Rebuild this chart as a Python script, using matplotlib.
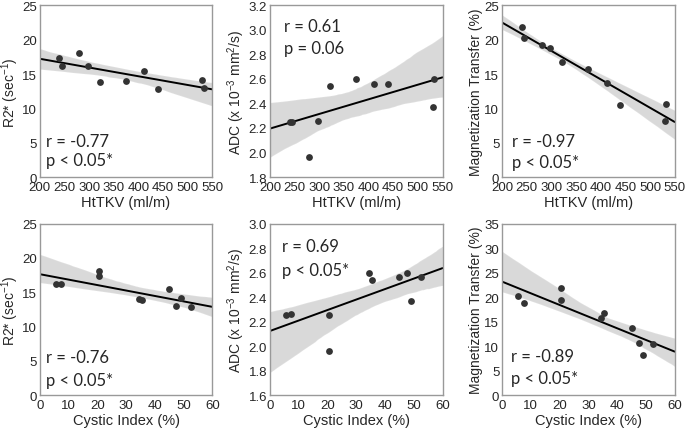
import matplotlib
matplotlib.use("Agg")
import matplotlib.pyplot as plt
import numpy as np
import seaborn as sns

# one value per patient
httkv = [240, 245, 280, 297, 322, 375, 412, 440, 530, 533]
cystic = [20.5, 5.5, 20.5, 7.5, 35.5, 34.5, 45, 52.5, 49, 47.5]
r2 = [17.3, 16.2, 18.1, 16.2, 13.8, 14.0, 15.5, 12.8, 14.1, 13.0]
adc = [2.25, 2.25, 1.96, 2.26, 2.54, 2.60, 2.56, 2.56, 2.37, 2.60]
mt = [21.8, 20.3, 19.3, 18.8, 16.7, 15.8, 13.7, 10.5, 8.2, 10.7]

r_text = [["r = -0.77", "r = 0.61", "r = -0.97"],
          ["r = -0.76", "r = 0.69", "r = -0.89"]]
p_text = [["p < 0.05*", "p = 0.06", "p < 0.05*"],
          ["p < 0.05*", "p < 0.05*", "p < 0.05*"]]

sns.set_style("white")
plt.rcParams['font.family'] = ['Liberation Sans', 'DejaVu Sans']
plt.rcParams['mathtext.default'] = 'regular'

fig = plt.figure(figsize=(6.85, 4.31), dpi=100)

ylabels = ["R2* (sec$^{-1}$)", "ADC (x 10$^{-3}$ mm$^2$/s)", "Magnetization Transfer (%)"]
ys = [r2, adc, mt]
xs = [httkv, cystic]
xlabels = ["HtTKV (ml/m)", "Cystic Index (%)"]
xlims = [(200, 550), (0, 60)]
xticks = [np.arange(200, 551, 50), np.arange(0, 61, 10)]
ylims = [[(0, 25), (1.8, 3.2), (0, 25)], [(0, 25), (1.6, 3.0), (0, 35)]]
ysteps = [[5, 0.2, 5], [5, 0.2, 5]]

lefts = [0.058, 0.394, 0.733]
bottoms = [0.587, 0.081]
# text positions (axes fraction): x, y of first line, y of second line
txt_pos = [[(0.035, 0.21, 0.10), (0.08, 0.88, 0.75), (0.06, 0.21, 0.09)],
           [(0.035, 0.22, 0.09), (0.07, 0.87, 0.73), (0.05, 0.23, 0.10)]]

for row in range(2):
    for col in range(3):
        ax = fig.add_axes([lefts[col], bottoms[row], 0.252, 0.398])
        ax.set_xlim(*xlims[row])
        lo, hi = ylims[row][col]
        ax.set_ylim(lo, hi)
        sns.regplot(x=np.array(xs[row]), y=np.array(ys[col]), ax=ax, ci=95, seed=3,
                    truncate=False, color='#333333',
                    scatter_kws={'s': 24, 'color': '#333333', 'alpha': 1,
                                 'linewidths': 0, 'zorder': 3},
                    line_kws={'color': 'black', 'lw': 1.4})
        ax.set_xlim(*xlims[row])
        ax.set_ylim(lo, hi)
        ax.set_xticks(xticks[row])
        ax.set_yticks(np.round(np.arange(lo, hi + 1e-9, ysteps[row][col]), 1))
        if ysteps[row][col] < 1:
            ax.set_yticklabels(["%.1f" % v for v in ax.get_yticks()])
        ax.tick_params(axis='x', length=0, pad=3, labelsize=9.5)
        ax.tick_params(axis='y', length=0, pad=2, labelsize=9.5)
        ax.set_xlabel(xlabels[row], fontsize=10.5, labelpad=1)
        ax.set_ylabel(ylabels[col], fontsize=10, labelpad=1)
        for s in ax.spines.values():
            s.set_color('#999999')
            s.set_linewidth(1.0)
        tx, ty1, ty2 = txt_pos[row][col]
        ax.text(tx, ty1, r_text[row][col], transform=ax.transAxes, fontsize=12,
                family=['Lato', 'DejaVu Sans'], va='center')
        ax.text(tx, ty2, p_text[row][col], transform=ax.transAxes, fontsize=12,
                family=['Lato', 'DejaVu Sans'], va='center')

fig.savefig("out.png", dpi=100)
